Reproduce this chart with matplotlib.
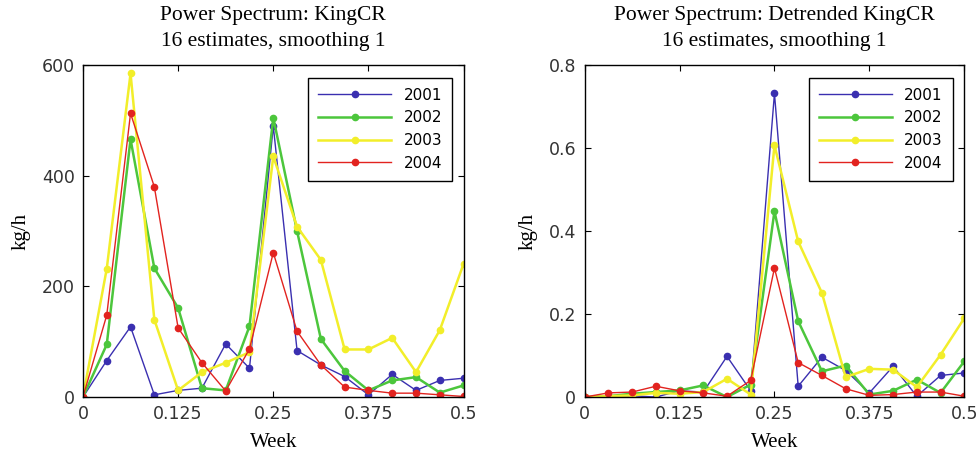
import numpy as np
import matplotlib
matplotlib.use('Agg')
import matplotlib.pyplot as plt

## Data: 17 frequency bins (cycles per week)
freq = np.arange(17) / 32.0
years = ['2001', '2002', '2003', '2004']

raw_2001 = [0, 66, 127, 4, 12, 16, 96, 52, 490, 84, 58, 37, 4, 41, 12, 30, 34]
raw_2002 = [0, 95, 466, 233, 161, 16, 12, 128, 505, 300, 105, 47, 12, 30, 36, 8, 21]
raw_2003 = [0, 232, 585, 140, 12, 45, 62, 81, 435, 308, 248, 86, 86, 107, 45, 121, 241]
raw_2004 = [0, 148, 513, 380, 125, 62, 11, 87, 261, 119, 58, 18, 12, 7, 7, 4, 1]

det_2001 = [0, 0.002, 0.003, 0, 0.015, 0.012, 0.098, 0.015, 0.732, 0.026, 0.096, 0.064, 0.01, 0.074, 0.002, 0.052, 0.058]
det_2002 = [0, 0.002, 0.008, 0.012, 0.016, 0.028, 0, 0.03, 0.448, 0.183, 0.062, 0.076, 0.006, 0.015, 0.042, 0.01, 0.086]
det_2003 = [0, 0.002, 0.004, 0.01, 0.008, 0.012, 0.044, 0.006, 0.607, 0.375, 0.251, 0.048, 0.068, 0.066, 0.024, 0.102, 0.19]
det_2004 = [0, 0.01, 0.012, 0.026, 0.015, 0.01, 0.002, 0.04, 0.311, 0.083, 0.052, 0.02, 0.004, 0.006, 0.012, 0.012, 0.002]

xticks = [0, 0.125, 0.25, 0.375, 0.5]
xticklabels = ['0', '0.125', '0.25', '0.375', '0.5']

## Styles
colors = ['#3a2fb0', '#4cc63c', '#f2ee2a', '#e2231f']
widths = [1.0, 1.8, 1.8, 1.0]
serif = {'family': 'Liberation Serif'}
font_title = 15.5
font_label = 15
font_axis = 12.5

panels = [
    (raw_2001, raw_2002, raw_2003, raw_2004, 'Power Spectrum: KingCR', [0, 600], [0, 200, 400, 600], ['0', '200', '400', '600']),
    (det_2001, det_2002, det_2003, det_2004, 'Power Spectrum: Detrended KingCR', [0, 0.8], [0, 0.2, 0.4, 0.6, 0.8], ['0', '0.2', '0.4', '0.6', '0.8']),
]
positions = [[0.085, 0.135, 0.390, 0.723], [0.599, 0.135, 0.389, 0.723]]

fig = plt.figure(figsize=(9.76, 4.59), dpi=100)
for pos, (s1, s2, s3, s4, title, ylim, yticks, yticklabels) in zip(positions, panels):
    ax = fig.add_axes(pos)
    for series, year, c, lw in zip([s1, s2, s3, s4], years, colors, widths):
        ax.plot(freq, series, '-o', color=c, lw=lw, ms=4.5, mec=c, label=year)
    ax.set_xlim(0, 0.5)
    ax.set_ylim(*ylim)
    ax.set_xticks(xticks)
    ax.set_xticklabels(xticklabels, fontsize=font_axis, family='DejaVu Sans')
    ax.set_yticks(yticks)
    ax.set_yticklabels(yticklabels, fontsize=font_axis, family='DejaVu Sans')
    ax.tick_params(direction='in', top=True, right=True, length=4, pad=6,
                   colors='black', labelcolor='#333333')
    for sp in ax.spines.values():
        sp.set_linewidth(1.0)
    ax.set_title(title + '\n16 estimates, smoothing 1', fontdict=serif, fontsize=font_title,
                 pad=14, linespacing=1.45)
    ax.set_xlabel('Week', fontdict=serif, fontsize=font_label, labelpad=7)
    ax.set_ylabel('kg/h', fontdict=serif, fontsize=font_label, labelpad=8)
    leg = ax.legend(loc='upper right', bbox_to_anchor=(0.99, 0.985), handlelength=4.8,
                    fancybox=False, edgecolor='black', framealpha=1,
                    prop={'family': 'DejaVu Sans', 'size': 11},
                    borderpad=0.65, labelspacing=0.5, handletextpad=0.8)
    leg.get_frame().set_linewidth(1.0)

plt.savefig('out.png', dpi=100)
